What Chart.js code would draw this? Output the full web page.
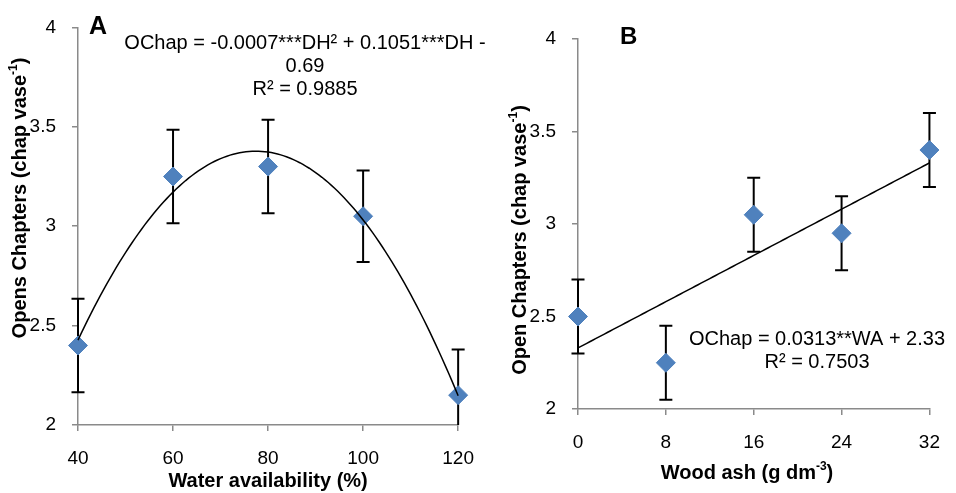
<!DOCTYPE html>
<html><head><meta charset="utf-8">
<script src="https://cdn.jsdelivr.net/npm/chart.js@4.4.1/dist/chart.umd.min.js"></script>
<style>
html,body{margin:0;padding:0;background:#fff;}
#wrap{position:relative;width:956px;height:493px;overflow:hidden;background:#fff;}
canvas{position:absolute;top:0;}
#cA{left:0;} #cB{left:480px;}
</style></head><body>
<div id="wrap"><canvas id="cA" width="490" height="493"></canvas><canvas id="cB" width="476" height="493"></canvas></div>
<script>
// ---- data ----
const waterAvailability = [40, 60, 80, 100, 120];
const openChaptersA = [2.40, 3.25, 3.30, 3.05, 2.15];
const errorA = [0.235, 0.235, 0.235, 0.23, 0.23];
const woodAsh = [0, 8, 16, 24, 32];
const openChaptersB = [2.50, 2.25, 3.05, 2.95, 3.40];
const errorB = [0.2, 0.2, 0.2, 0.2, 0.2];
const xTicksA = [40, 60, 80, 100, 120];
const xTicksB = [0, 8, 16, 24, 32];
const yTicks = [2, 2.5, 3, 3.5, 4];
const eqA = ['OChap = -0.0007***DH² + 0.1051***DH -', '0.69', 'R² = 0.9885'];
const eqB = ['OChap = 0.0313**WA + 2.33', 'R² = 0.7503'];
const yTitleA = ['Opens Chapters (chap vase', '-1', ')'];
const yTitleB = ['Open Chapters (chap vase', '-1', ')'];
const xTitleA = 'Water availability (%)';
const xTitleB = ['Wood ash (g dm', '-3', ')'];

const FONT = '"Liberation Sans", Arial, Helvetica, sans-serif';
const AXIS = '#8a8a8a';
const MARK = '#4f81bd';

// least-squares polynomial fit (the trendline of the original chart)
function polyfit(xs, ys, deg) {
  const n = deg + 1;
  const A = Array.from({length: n}, () => new Array(n + 1).fill(0));
  for (let i = 0; i < xs.length; i++) {
    for (let r = 0; r < n; r++) {
      for (let c = 0; c < n; c++) A[r][c] += Math.pow(xs[i], r + c);
      A[r][n] += ys[i] * Math.pow(xs[i], r);
    }
  }
  for (let k = 0; k < n; k++) {
    let p = k;
    for (let r = k + 1; r < n; r++) if (Math.abs(A[r][k]) > Math.abs(A[p][k])) p = r;
    [A[k], A[p]] = [A[p], A[k]];
    for (let r = 0; r < n; r++) {
      if (r === k) continue;
      const f = A[r][k] / A[k][k];
      for (let c = k; c <= n; c++) A[r][c] -= f * A[k][c];
    }
  }
  return A.map((row, i) => row[n] / row[i]);
}
function trend(xs, ys, deg, steps) {
  const co = polyfit(xs, ys, deg);
  const lo = Math.min(...xs), hi = Math.max(...xs);
  const pts = [];
  for (let i = 0; i <= steps; i++) {
    const x = lo + (hi - lo) * i / steps;
    pts.push({x, y: co.reduce((s, c, k) => s + c * Math.pow(x, k), 0)});
  }
  return pts;
}

function drawRich(ctx, parts, x, y, rotate, size, bold) {
  ctx.save();
  ctx.translate(x, y);
  if (rotate) ctx.rotate(-Math.PI / 2);
  ctx.fillStyle = '#000';
  ctx.textBaseline = 'middle';
  ctx.textAlign = 'left';
  const w = (bold ? 'bold ' : '');
  const items = parts.map((t, i) => {
    const sup = i === 1;
    const f = w + (sup ? Math.round(size * 0.62) : size) + 'px ' + FONT;
    ctx.font = f;
    return {t, sup, f, wd: ctx.measureText(t).width};
  });
  const total = items.reduce((s, it) => s + it.wd, 0);
  let cx = -total / 2;
  items.forEach(it => {
    ctx.font = it.f;
    ctx.fillText(it.t, cx, it.sup ? -size * 0.33 : 0);
    cx += it.wd;
  });
  ctx.restore();
}

function errorBarPlugin(xs, ys, errs) {
  return {
    id: 'errbars',
    beforeDatasetsDraw(chart) {
      const {ctx, chartArea: a, scales: {x, y}} = chart;
      ctx.save();
      ctx.beginPath();
      ctx.rect(a.left - 10, a.top, a.right - a.left + 20, a.bottom - a.top);
      ctx.clip();
      ctx.strokeStyle = '#000';
      ctx.lineWidth = 2;
      xs.forEach((xv, i) => {
        const px = x.getPixelForValue(xv);
        const top = y.getPixelForValue(ys[i] + errs[i]);
        const bot = y.getPixelForValue(ys[i] - errs[i]);
        ctx.beginPath();
        ctx.moveTo(px, top); ctx.lineTo(px, bot);
        ctx.moveTo(px - 6.5, top); ctx.lineTo(px + 6.5, top);
        ctx.moveTo(px - 6.5, bot); ctx.lineTo(px + 6.5, bot);
        ctx.stroke();
      });
      ctx.restore();
    }
  };
}

function makeOptions(xTicks, yW, xH, xTitle, xTitlePad, padding) {
  return {
    responsive: false,
    animation: false,
    devicePixelRatio: 1,
    layout: {padding},
    plugins: {legend: {display: false}, tooltip: {enabled: false}},
    scales: {
      x: {
        type: 'linear',
        min: xTicks[0], max: xTicks[xTicks.length - 1],
        afterBuildTicks: s => { s.ticks = xTicks.map(v => ({value: v})); },
        afterFit: s => { s.height = xH; },
        grid: {drawOnChartArea: false, drawTicks: true, tickLength: 6, color: AXIS, lineWidth: 1.5},
        border: {color: AXIS, width: 1.5},
        ticks: {color: '#000', padding: 16, font: {family: FONT, size: 19}, callback: v => String(v)},
        title: xTitle ? {display: true, text: xTitle, color: '#000', padding: {top: 0, bottom: xTitlePad}, font: {family: FONT, size: 20, weight: 'bold'}} : {display: false}
      },
      y: {
        type: 'linear',
        min: yTicks[0], max: yTicks[yTicks.length - 1],
        afterBuildTicks: s => { s.ticks = yTicks.map(v => ({value: v})); },
        afterFit: s => { s.width = yW; },
        grid: {drawOnChartArea: false, drawTicks: true, tickLength: 6, color: AXIS, lineWidth: 1.5},
        border: {color: AXIS, width: 1.5},
        ticks: {color: '#000', padding: 16, font: {family: FONT, size: 19}, callback: v => String(v)}
      }
    }
  };
}

function datasets(xs, ys, deg) {
  return [
    {data: trend(xs, ys, deg, 120), showLine: true, borderColor: '#000', borderWidth: 1.5,
     pointRadius: 0, tension: 0, fill: false, order: 0, clip: false},
    {data: xs.map((x, i) => ({x, y: ys[i]})), pointStyle: 'rectRot', pointRadius: 9.5,
     pointBackgroundColor: MARK, pointBorderColor: MARK, pointBorderWidth: 1, showLine: false, order: 1, clip: false}
  ];
}

new Chart(document.getElementById('cA'), {
  type: 'scatter',
  data: {datasets: datasets(waterAvailability, openChaptersA, 2)},
  options: makeOptions(xTicksA, 78, 68, xTitleA, 0, {left: 0, right: 23, top: 12, bottom: 0}),
  plugins: [errorBarPlugin(waterAvailability, openChaptersA, errorA), {
    id: 'textA',
    afterDraw(chart) {
      const ctx = chart.ctx;
      ctx.save();
      ctx.fillStyle = '#000';
      ctx.font = 'bold 25px ' + FONT;
      ctx.textAlign = 'left'; ctx.textBaseline = 'alphabetic';
      ctx.fillText('A', 89, 34);
      ctx.font = '20px ' + FONT;
      ctx.textAlign = 'center'; ctx.textBaseline = 'middle';
      eqA.forEach((t, i) => ctx.fillText(t, 305, 43 + i * 23));
      ctx.restore();
      drawRich(ctx, yTitleA, 20, 198, true, 20, true);
    }
  }]
});

new Chart(document.getElementById('cB'), {
  type: 'scatter',
  data: {datasets: datasets(woodAsh, openChaptersB, 1)},
  options: makeOptions(xTicksB, 98, 84, null, 0, {left: 0, right: 13, top: 39, bottom: 0}),
  plugins: [errorBarPlugin(woodAsh, openChaptersB, errorB), {
    id: 'textB',
    afterDraw(chart) {
      const ctx = chart.ctx;
      ctx.save();
      ctx.fillStyle = '#000';
      ctx.font = 'bold 24px ' + FONT;
      ctx.textAlign = 'left'; ctx.textBaseline = 'alphabetic';
      ctx.fillText('B', 140, 44);
      ctx.font = '20px ' + FONT;
      ctx.textAlign = 'center'; ctx.textBaseline = 'middle';
      eqB.forEach((t, i) => ctx.fillText(t, 337, 339 + i * 23));
      ctx.restore();
      drawRich(ctx, yTitleB, 40, 240, true, 20, true);
      drawRich(ctx, xTitleB, 267, 473, false, 20, true);
    }
  }]
});
</script>
</body></html>
